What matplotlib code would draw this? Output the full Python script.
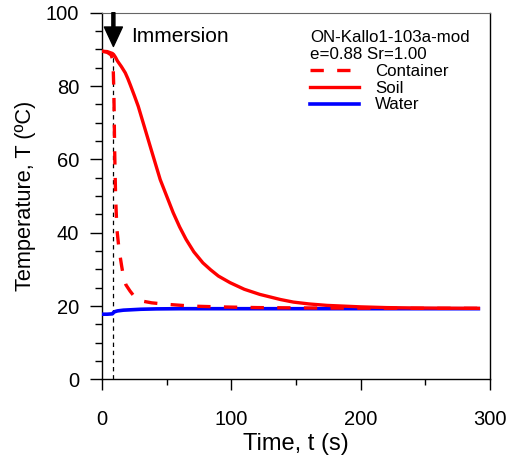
#!/usr/bin/env python3
"""Temperature history of container, soil and water after immersion."""
import matplotlib

matplotlib.use("Agg")
import matplotlib.pyplot as plt
from matplotlib.ticker import MultipleLocator

plt.rcParams["font.family"] = ["Liberation Sans", "DejaVu Sans"]

TEST_ID = "ON-Kallo1-103a-mod"
TEST_PARAMS = "e=0.88 Sr=1.00"
IMMERSION_T = 8.8

# container thermocouple (s, degC)
container_t = [0, 4, 7, 8.5, 9.2, 9.8, 10.5, 11.5, 13, 14, 15.2, 16.5, 18.5,
               21.7, 25, 30.7, 38.4, 50, 57.8, 70, 90, 120, 160, 200, 250, 291]
container_T = [89.5, 89.2, 88.5, 87.0, 78.0, 62.0, 50.0, 41.0, 36.0, 33.6,
               30.9, 28.2, 25.8, 24.1, 22.6, 21.4, 20.9, 20.5, 20.3, 20.0,
               19.8, 19.6, 19.5, 19.45, 19.4, 19.4]

# soil specimen centre
soil_t = [0, 4, 8, 9, 10.5, 12, 15, 18, 20, 22, 25, 28, 33, 38, 45, 49, 55,
          60, 65, 71, 78, 84, 90, 99, 110, 122, 138, 148, 160, 174, 187, 200,
          220, 240, 260, 291]
soil_T = [89.5, 89.4, 88.9, 88.6, 87.8, 86.8, 85.3, 83.6, 82.0, 80.2, 77.4,
          74.5, 68.6, 62.7, 54.5, 50.9, 45.5, 41.6, 38.2, 34.8, 31.8, 29.9,
          28.2, 26.4, 24.6, 23.2, 21.8, 21.1, 20.6, 20.2, 20.0, 19.8, 19.6,
          19.5, 19.45, 19.4]

# water bath
water_t = [0, 4, 8, 9, 10, 12, 16.5, 22, 30, 42, 60, 100, 150, 200, 250, 291]
water_T = [17.8, 17.8, 17.9, 18.3, 18.5, 18.7, 18.9, 19.0, 19.15, 19.25,
           19.3, 19.3, 19.3, 19.3, 19.3, 19.3]


def main():
    fig = plt.figure(figsize=(5.07, 4.57), dpi=100)
    ax = fig.add_axes([0.2012, 0.1696, 0.7653, 0.8026])

    ax.plot(water_t, water_T, color="#0000ff", lw=2.6, label="Water", zorder=3)
    ax.plot(container_t, container_T, color="#ff0000", lw=2.4,
            dashes=(4, 4), label="Container", zorder=4)
    ax.plot(soil_t, soil_T, color="#ff0000", lw=2.4, label="Soil", zorder=5)

    # immersion marker
    ax.plot([IMMERSION_T, IMMERSION_T], [0, 89], color="black", lw=0.9,
            dashes=(3.5, 3), zorder=2)
    ax.annotate("", xy=(IMMERSION_T, 90.8), xytext=(IMMERSION_T, 100),
                arrowprops=dict(facecolor="black", edgecolor="black",
                                width=2.2, headwidth=13, headlength=14,
                                shrink=0), annotation_clip=False)
    ax.text(22.4, 93.6, "Immersion", fontsize=15, va="center", ha="left")

    ax.set_xlim(0, 300)
    ax.set_ylim(0, 100)
    ax.xaxis.set_major_locator(MultipleLocator(100))
    ax.xaxis.set_minor_locator(MultipleLocator(50))
    ax.yaxis.set_major_locator(MultipleLocator(20))
    ax.yaxis.set_minor_locator(MultipleLocator(5))
    ax.tick_params(axis="x", which="major", direction="out", length=7.7,
                   width=1, pad=14, labelsize=14.5)
    ax.tick_params(axis="x", which="minor", direction="out", length=4,
                   width=1)
    ax.tick_params(axis="y", which="major", direction="out", length=8.4,
                   width=1, pad=8, labelsize=14.5)
    ax.tick_params(axis="y", which="minor", direction="out", length=4.8,
                   width=1)
    for side in ("left", "right", "bottom"):
        ax.spines[side].set_linewidth(1.0)
    ax.spines["top"].set_color("#666666")

    ax.set_xlabel("Time, t (s)", fontsize=17, labelpad=3)
    ax.set_ylabel("Temperature, T (ºC)", fontsize=15.7, labelpad=7)

    handles, labels = ax.get_legend_handles_labels()
    order = [labels.index(name) for name in ("Container", "Soil", "Water")]
    ax.legend([handles[i] for i in order], [labels[i] for i in order],
              title=f"{TEST_ID}\n{TEST_PARAMS}", title_fontsize=12.2,
              fontsize=12.2, alignment="left", frameon=False,
              loc="upper left", bbox_to_anchor=(310 / 507, 1 - 30 / 457),
              bbox_transform=fig.transFigure, borderpad=0, borderaxespad=0,
              handlelength=2.9, handletextpad=0.95, labelspacing=0.1)

    fig.savefig("out.png", dpi=100)
    plt.close(fig)


if __name__ == "__main__":
    main()
